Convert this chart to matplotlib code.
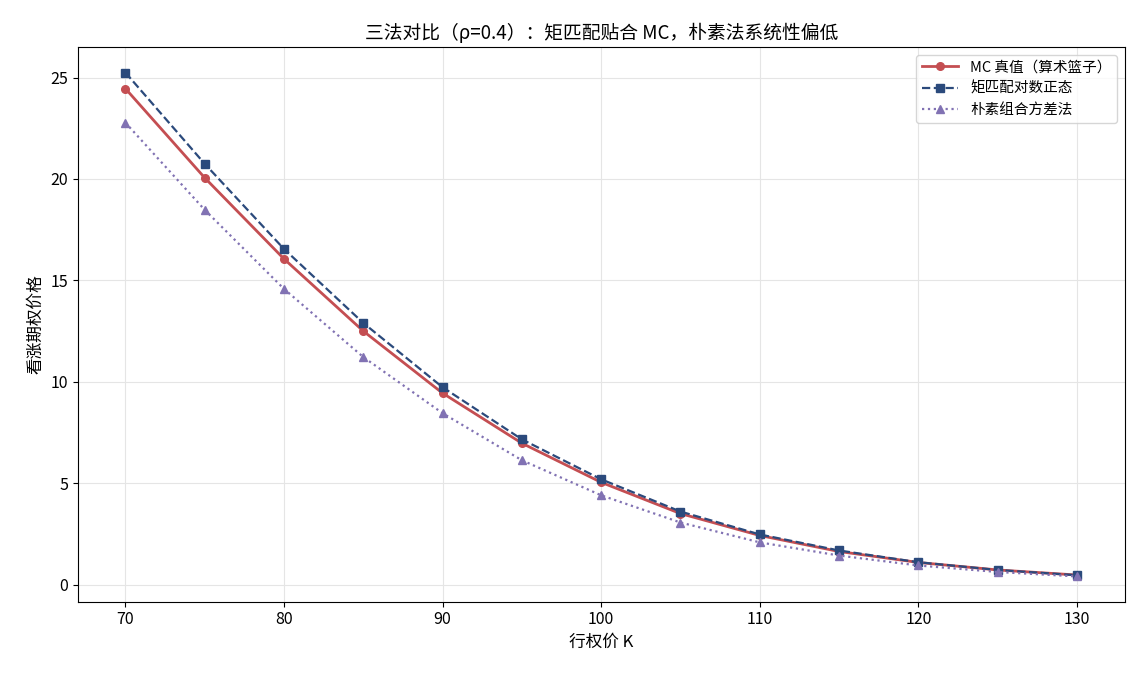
import matplotlib
matplotlib.use("Agg")
from matplotlib import pyplot as plt

plt.rcParams['font.family'] = ['Noto Sans CJK SC', 'DejaVu Sans']

# Data
strikes = [70, 75, 80, 85, 90, 95, 100, 105, 110, 115, 120, 125, 130]
mc_price = [24.46, 20.06, 16.06, 12.50, 9.44, 6.97, 5.04, 3.50, 2.42, 1.63, 1.09, 0.72, 0.47]
mm_price = [25.25, 20.75, 16.55, 12.90, 9.73, 7.16, 5.19, 3.60, 2.47, 1.68, 1.10, 0.72, 0.46]
naive_price = [22.78, 18.48, 14.58, 11.22, 8.45, 6.13, 4.40, 3.06, 2.08, 1.43, 0.94, 0.62, 0.40]

fig, ax = plt.subplots(figsize=(11.44, 6.76), dpi=100)

ax.plot(strikes, mc_price, color='#c44e52', linestyle='-', marker='o',
        markersize=5.5, linewidth=2, label='MC 真值（算术篮子）')
ax.plot(strikes, mm_price, color='#2b4a7c', linestyle='--', marker='s',
        markersize=5.5, linewidth=1.6, label='矩匹配对数正态')
ax.plot(strikes, naive_price, color='#8172b3', linestyle=':', marker='^',
        markersize=5.5, linewidth=1.6, label='朴素组合方差法')

ax.set_xlabel('行权价 K', fontsize=12)
ax.set_ylabel('看涨期权价格', fontsize=12)
ax.set_title('三法对比（ρ=0.4）：矩匹配贴合 MC，朴素法系统性偏低', fontsize=13.5)
ax.tick_params(labelsize=11.5)
ax.grid(True, color='#e5e5e5', linewidth=0.8)
ax.set_axisbelow(True)
ax.legend(loc='upper right', fontsize=10.5, handlelength=2.5)

fig.subplots_adjust(left=0.068, right=0.983, top=0.93, bottom=0.11)
fig.savefig('out.png', dpi=100)
